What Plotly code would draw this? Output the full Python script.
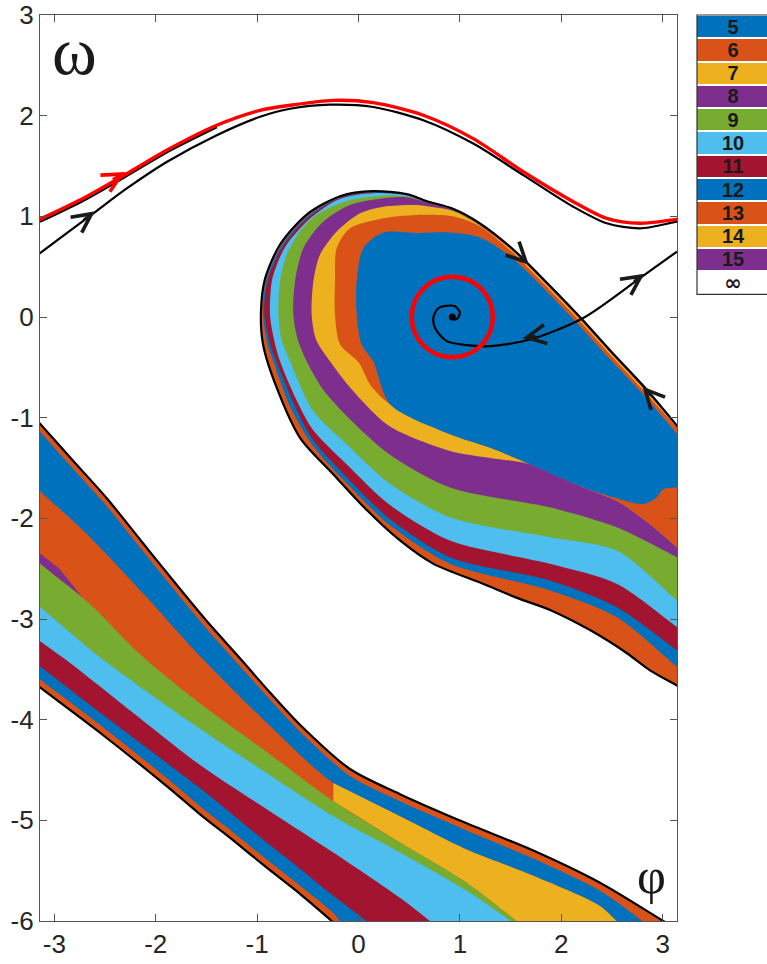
import math
import plotly.graph_objects as go

PI = math.pi

# ---------------- colours (MATLAB default order) ----------------
BLUE, ORANGE, YELLOW, PURPLE = "#0072BD", "#D95319", "#EDB120", "#7E2F8E"
GREEN, LBLUE, DRED = "#77AC30", "#4DBEEE", "#A2142F"

LEGEND_LABELS = ["5", "6", "7", "8", "9", "10", "11", "12", "13", "14", "15", "∞"]
LEGEND_COLORS = [BLUE, ORANGE, YELLOW, PURPLE, GREEN, LBLUE, DRED,
                 BLUE, ORANGE, YELLOW, PURPLE, "#FFFFFF"]

X_TICKS = [-3, -2, -1, 0, 1, 2, 3]
Y_TICKS = [-6, -5, -4, -3, -2, -1, 0, 1, 2, 3]

# ---------------- lower-left band ----------------
LB_UPPER_X = [-PI, -2.813, -2.483, -2.155, -1.826, -1.497, -1.169, -0.873, -0.577, -0.084, 0.409, 1.067, 1.724, 2.382, 3.006]
LB_UPPER_Y = [-1.06, -1.43, -1.80, -2.21, -2.62, -3.02, -3.39, -3.73, -4.05, -4.49, -4.74, -5.03, -5.30, -5.62, -6.0]
LB_LOWER_X = [-PI, -2.55, -1.892, -1.563, -1.235, -0.905, -0.577, -0.264]
LB_LOWER_Y = [-3.68, -4.13, -4.66, -4.94, -5.20, -5.47, -5.73, -6.0]

B1_X = [-PI, -2.813, -2.483, -2.155, -1.826, -1.497, -1.169, -0.873, -0.577, -0.084, 0.409, 1.067, 1.724, 2.382, 2.80]
B1_Y = [-1.14, -1.51, -1.88, -2.29, -2.70, -3.10, -3.47, -3.80, -4.12, -4.56, -4.81, -5.10, -5.38, -5.70, -6.0]
B2_X = [-PI, -2.68, -2.06, -1.6, -0.906, -0.248, 0.409, 1.067, 1.724, 2.382, 2.546]
B2_Y = [-1.73, -2.155, -2.815, -3.33, -4.03, -4.63, -4.96, -5.29, -5.55, -5.85, -6.0]
B3_X = [-PI, -2.65, -2.155, -1.563, -0.906, -0.248, 0.409, 1.067, 1.56]
B3_Y = [-2.45, -2.85, -3.35, -3.84, -4.32, -4.81, -5.22, -5.62, -6.0]
B4_X = [-PI, -2.55, -2.05, -1.563, -0.906, -0.248, 0.409, 1.067, 1.50]
B4_Y = [-2.88, -3.38, -3.75, -4.09, -4.53, -4.96, -5.32, -5.70, -6.0]
B5_X = [-PI, -2.88, -2.2, -1.563, -0.906, -0.248, 0.409, 0.705]
B5_Y = [-3.22, -3.41, -3.95, -4.45, -4.89, -5.32, -5.77, -6.0]
B6_X = [-PI, -2.55, -1.892, -1.563, -1.235, -0.906, -0.577, -0.248, 0.081]
B6_Y = [-3.47, -3.93, -4.43, -4.68, -4.95, -5.22, -5.48, -5.75, -6.0]
B7_X = [-PI, -2.55, -1.892, -1.563, -1.235, -0.905, -0.577, -0.248, -0.182]
B7_Y = [-3.60, -4.05, -4.58, -4.86, -5.12, -5.39, -5.65, -5.92, -6.0]
PURPLE_X = [-PI, -2.95, -2.72, -3.0, -PI]
PURPLE_Y = [-2.35, -2.50, -2.79, -2.565, -2.45]
YELLOW_STEP = -0.25

# ---------------- teardrop basin ----------------
C0_X = [PI, 2.842, 2.499, 2.184, 1.790, 1.527, 1.198, 0.932, 0.676, 0.475, 0.143, -0.182, -0.508, -0.774, -0.922, -0.962, -0.942, -0.804, -0.577, -0.251, 0.084, 0.409, 0.735, 1.228, 1.563, 1.889, 2.283, 2.648, 2.875, PI]
C0_Y = [-1.08, -0.72, -0.35, 0.0, 0.41, 0.67, 0.93, 1.075, 1.15, 1.22, 1.25, 1.20, 1.02, 0.72, 0.38, 0.06, -0.27, -0.71, -1.20, -1.56, -1.92, -2.22, -2.45, -2.65, -2.79, -2.91, -3.11, -3.34, -3.51, -3.66]
C1_X = [PI, 2.842, 2.499, 2.184, 1.790, 1.527, 1.198, 0.932, 0.676, 0.475, 0.143, -0.182, -0.50, -0.76, -0.905, -0.945, -0.90, -0.84, -0.67, -0.45, -0.10, 0.30, 0.902, 1.888, 2.546, PI]
C1_Y = [-1.08, -0.72, -0.35, 0.0, 0.41, 0.67, 0.93, 1.075, 1.15, 1.215, 1.24, 1.19, 1.005, 0.71, 0.38, 0.06, -0.26, -0.44, -0.90, -1.28, -1.67, -2.06, -2.452, -2.716, -2.98, -3.475]
C2_X = [PI, 2.842, 2.499, 2.184, 1.790, 1.527, 1.198, 0.932, 0.676, 0.475, 0.143, -0.182, -0.49, -0.745, -0.89, -0.93, -0.875, -0.81, -0.63, -0.45, -0.10, 0.30, 0.902, 1.888, 2.546, PI]
C2_Y = [-1.08, -0.72, -0.35, 0.0, 0.41, 0.67, 0.93, 1.075, 1.15, 1.21, 1.235, 1.185, 0.995, 0.705, 0.38, 0.05, -0.25, -0.44, -0.88, -1.22, -1.61, -2.0, -2.386, -2.617, -2.881, -3.31]
C3_X = [PI, 2.842, 2.499, 2.184, 1.790, 1.527, 1.198, 0.932, 0.676, 0.475, 0.143, -0.182, -0.47, -0.72, -0.85, -0.873, -0.83, -0.774, -0.60, -0.45, -0.10, 0.30, 0.902, 1.888, 2.546, PI]
C3_Y = [-1.08, -0.72, -0.35, 0.0, 0.41, 0.67, 0.93, 1.075, 1.15, 1.21, 1.23, 1.175, 0.985, 0.70, 0.38, 0.024, -0.24, -0.44, -0.85, -1.12, -1.48, -1.86, -2.221, -2.452, -2.65, -3.079]
C4_X = [PI, 2.842, 2.499, 2.184, 1.790, 1.527, 1.198, 0.932, 0.676, 0.475, 0.245, -0.084, -0.413, -0.577, -0.708, -0.774, -0.79, -0.76, -0.675, -0.45, -0.10, 0.30, 0.902, 1.888, 2.546, PI]
C4_Y = [-1.08, -0.72, -0.35, 0.0, 0.41, 0.67, 0.925, 1.07, 1.145, 1.20, 1.205, 1.162, 1.014, 0.849, 0.618, 0.354, 0.024, -0.22, -0.44, -0.93, -1.28, -1.65, -1.99, -2.188, -2.32, -2.815]
C5_X = [PI, 2.842, 2.499, 2.184, 1.790, 1.527, 1.198, 0.932, 0.676, 0.475, 0.245, -0.084, -0.347, -0.544, -0.626, -0.643, -0.60, -0.511, -0.35, -0.10, 0.30, 0.902, 1.888, 2.546, PI]
C5_Y = [-1.08, -0.72, -0.35, 0.0, 0.41, 0.67, 0.92, 1.065, 1.14, 1.19, 1.179, 1.113, 0.948, 0.684, 0.354, 0.024, -0.22, -0.44, -0.72, -1.0, -1.36, -1.693, -1.891, -2.089, -2.386]
C6_X = [PI, 2.83, 2.49, 2.175, 1.78, 1.52, 1.19, 0.93, 0.676, 0.574, 0.245, 0.015, -0.215, -0.38, -0.445, -0.462, -0.42, -0.281, -0.10, 0.30, 0.902, 1.30, 1.691, 2.217, 2.546, 2.874, PI]
C6_Y = [-1.09, -0.73, -0.36, -0.01, 0.40, 0.66, 0.915, 1.055, 1.10, 1.113, 1.096, 1.03, 0.849, 0.618, 0.354, 0.024, -0.22, -0.44, -0.68, -1.08, -1.33, -1.40, -1.462, -1.693, -1.825, -2.056, -2.287]
C7_X = [PI, 2.82, 2.48, 2.165, 1.77, 1.51, 1.198, 0.93, 0.574, 0.245, -0.084, -0.215, -0.232, -0.232, -0.182, 0.0, 0.12, 0.31, 0.902, 1.30, 1.691, 2.217, 2.546, 2.874, PI]
C7_Y = [-1.10, -0.74, -0.37, -0.02, 0.39, 0.65, 0.90, 1.0, 1.014, 0.981, 0.882, 0.684, 0.354, 0.024, -0.273, -0.45, -0.68, -0.867, -1.165, -1.30, -1.462, -1.693, -1.825, -2.056, -2.287]
C8_X = [PI, 2.80, 2.457, 2.142, 1.748, 1.48, 1.198, 0.90, 0.574, 0.245, 0.048, -0.018, -0.018, 0.03, 0.146, 0.31, 0.902, 1.30, 1.691, 2.217, 2.546, 2.809, 2.940, 3.006, PI]
C8_Y = [-1.16, -0.76, -0.395, -0.045, 0.365, 0.615, 0.79, 0.84, 0.835, 0.839, 0.684, 0.354, 0.024, -0.273, -0.44, -0.867, -1.165, -1.30, -1.462, -1.693, -1.80, -1.858, -1.792, -1.710, -1.693]

# ---------------- orbits / trajectories ----------------
RED_X = [-PI, -2.714, -2.253, -1.892, -1.398, -0.971, -0.676, -0.248, 0.146, 0.639, 1.132, 1.625, 2.118, 2.448, 2.776, PI]
RED_Y = [0.97, 1.18, 1.443, 1.657, 1.905, 2.053, 2.103, 2.152, 2.129, 2.004, 1.772, 1.443, 1.146, 0.98, 0.931, 0.97]
BLK_X = [-PI, -2.615, -2.286, -1.892, -1.398, -0.971, -0.676, -0.281, 0.146, 0.639, 1.132, 1.625, 2.118, 2.448, 2.776, PI]
BLK_Y = [0.634, 1.03, 1.277, 1.54, 1.806, 1.989, 2.069, 2.109, 2.086, 1.955, 1.723, 1.41, 1.096, 0.931, 0.881, 0.947]
BLK2_X = [-PI, -2.714, -2.253, -1.892, -1.398]
BLK2_Y = [0.945, 1.155, 1.42, 1.635, 1.885]
TRAJ_X = [PI, 2.776, 2.217, 1.691, 1.297, 1.067, 0.870, 0.760, 0.738, 0.78, 0.86, 0.952, 1.0, 0.975, 0.935, 0.905]
TRAJ_Y = [0.65, 0.386, -0.01, -0.224, -0.29, -0.28, -0.24, -0.12, -0.01, 0.08, 0.11, 0.106, 0.045, -0.015, -0.025, -0.005]
FOCUS = (0.925, 0.0)
CIRCLE_R = 0.40

# arrows: (head_x, head_y, tail_x, tail_y, colour)
ARROWS = [(-2.30, 1.44, -2.44, 1.36, "#FF0000"),
          (-2.60, 1.05, -2.73, 0.955, "#1a1a1a"),
          (1.68, 0.52, 1.58, 0.62, "#1a1a1a"),
          (2.80, -0.69, 2.90, -0.80, "#1a1a1a"),
          (1.62, -0.21, 1.76, -0.185, "#1a1a1a"),
          (2.82, 0.43, 2.70, 0.345, "#1a1a1a")]

fig = go.Figure()


def ext(xs, ys, at_end=True, f=0.6):
    """construction point just outside the plot, continuing a curve past its end"""
    if at_end:
        (x0, y0), (x1, y1) = (xs[-2], ys[-2]), (xs[-1], ys[-1])
    else:
        (x0, y0), (x1, y1) = (xs[1], ys[1]), (xs[0], ys[0])
    return x1 + f * (x1 - x0), y1 + f * (y1 - y0)


def extended(xs, ys):
    a, b = ext(xs, ys, False), ext(xs, ys, True)
    return [a[0]] + list(xs) + [b[0]], [a[1]] + list(ys) + [b[1]]


SPL = dict(shape="spline", smoothing=0.8)


def fill(xs, ys, color):
    fig.add_trace(go.Scatter(x=xs, y=ys, mode="lines", fill="toself", fillcolor=color,
                             line=dict(width=0, color=color, **SPL), hoverinfo="skip", showlegend=False))


def band_below(cx, cy, color):
    ex, ey = extended(cx, cy)
    lx, ly = extended(LB_LOWER_X, LB_LOWER_Y)
    fill(ex + lx[::-1], ey + ly[::-1], color)


def line(xs, ys, color, width, ext_ends=False):
    if ext_ends:
        xs, ys = extended(xs, ys)
    fig.add_trace(go.Scatter(x=xs, y=ys, mode="lines", hoverinfo="skip", showlegend=False,
                             line=dict(color=color, width=width, **SPL)))


# lower band (painter order)
band_below(LB_UPPER_X, LB_UPPER_Y, ORANGE)
band_below(B1_X, B1_Y, BLUE)
band_below(B2_X, B2_Y, ORANGE)
y2x = [x for x in B2_X if x >= YELLOW_STEP]
y2y = [y for x, y in zip(B2_X, B2_Y) if x >= YELLOW_STEP]
y3x = [x for x in B3_X if x >= YELLOW_STEP]
y3y = [y for x, y in zip(B3_X, B3_Y) if x >= YELLOW_STEP]
e2, e3 = ext(y2x, y2y), ext(y3x, y3y)
fill(y2x + [e2[0], e3[0]] + y3x[::-1], y2y + [e2[1], e3[1]] + y3y[::-1], YELLOW)
fig.add_trace(go.Scatter(x=PURPLE_X, y=PURPLE_Y, mode="lines", fill="toself", fillcolor=PURPLE,
                         line=dict(width=0, color=PURPLE), hoverinfo="skip", showlegend=False))
band_below(B3_X, B3_Y, GREEN)
band_below(B4_X, B4_Y, LBLUE)
band_below(B5_X, B5_Y, DRED)
band_below(B6_X, B6_Y, BLUE)
band_below(B7_X, B7_Y, ORANGE)

# teardrop (painter order, outer to inner)
for cx, cy, col in [(C0_X, C0_Y, ORANGE), (C1_X, C1_Y, BLUE), (C2_X, C2_Y, DRED),
                    (C3_X, C3_Y, LBLUE), (C4_X, C4_Y, GREEN), (C5_X, C5_Y, PURPLE),
                    (C6_X, C6_Y, YELLOW), (C7_X, C7_Y, ORANGE), (C8_X, C8_Y, BLUE)]:
    ex, ey = extended(cx, cy)
    fill(ex, ey, col)

# boundary lines
line(LB_UPPER_X, LB_UPPER_Y, "black", 2.2, True)
line(LB_LOWER_X, LB_LOWER_Y, "black", 2.2, True)
line(C0_X, C0_Y, "black", 2.2, True)
line(BLK_X, BLK_Y, "black", 2.2, True)
line(BLK2_X, BLK2_Y, "black", 2.2)
line(RED_X, RED_Y, "#FF0000", 3.4, True)
line(TRAJ_X, TRAJ_Y, "black", 2.2)
fig.add_trace(go.Scatter(x=[FOCUS[0]], y=[FOCUS[1]], mode="markers", hoverinfo="skip", showlegend=False,
                         marker=dict(color="black", size=7)))

# colour key
key_text = [[("<span style='font-family:DejaVu Sans;font-size:21px'>%s</span>" % t) if t == "∞" else t]
            for t in LEGEND_LABELS]
fig.add_trace(go.Heatmap(z=[[i] for i in range(len(LEGEND_LABELS))], x=[0], y=list(range(len(LEGEND_LABELS))),
                         text=key_text, texttemplate="<b>%{text}</b>",
                         textfont=dict(family="Liberation Sans", size=20, color="#1a1a1a"),
                         colorscale=[[i / (len(LEGEND_COLORS) - 1), c] for i, c in enumerate(LEGEND_COLORS)],
                         zmin=0, zmax=len(LEGEND_COLORS) - 1, showscale=False, ygap=2,
                         xaxis="x2", yaxis="y2", hoverinfo="skip"))

W, H = 767, 964
ML, MT, MB = 40, 13, 43
PW, PH = W - ML, H - MT - MB
px = lambda p: (p - ML) / PW          # pixel column -> paper x
py = lambda p: 1 - (p - MT) / PH      # pixel row -> paper y

shapes = [dict(type="circle", xref="x", yref="y",
               x0=FOCUS[0] - CIRCLE_R, x1=FOCUS[0] + CIRCLE_R, y0=FOCUS[1] - CIRCLE_R, y1=FOCUS[1] + CIRCLE_R,
               line=dict(color="#FF0000", width=4.5)),
          dict(type="rect", xref="paper", yref="paper", x0=px(697), x1=1.05, y0=py(293), y1=py(13),
               line=dict(color="#333333", width=1.2))]

annotations = [dict(x=-2.80, y=2.64, xref="x", yref="y", text="ω", showarrow=False,
                    font=dict(family="Liberation Serif", size=68, color="#1a1a1a")),
               dict(x=2.89, y=-5.55, xref="x", yref="y", text="φ", showarrow=False,
                    font=dict(family="Liberation Serif", size=50, color="#1a1a1a"))]
for hx, hy, tx, ty, col in ARROWS:
    annotations.append(dict(x=hx, y=hy, ax=tx, ay=ty, xref="x", yref="y", axref="x", ayref="y",
                            text="", showarrow=True, arrowhead=5, arrowsize=1.7, arrowwidth=2.2,
                            arrowcolor=col, standoff=0))

axis_common = dict(showgrid=False, zeroline=False, ticks="inside", ticklen=7, tickcolor="#555555",
                   showline=True, linecolor="#555555", linewidth=1.2, mirror="ticks",
                   ticklabeloverflow="allow",
                   tickfont=dict(family="Liberation Sans", size=26, color="#262626"))

fig.update_layout(
    width=W, height=H, margin=dict(l=ML, r=0, t=MT, b=MB),
    paper_bgcolor="white", plot_bgcolor="white", showlegend=False,
    xaxis=dict(domain=[0, px(677)], range=[-PI, PI], tickvals=X_TICKS,
               ticktext=[str(v) for v in X_TICKS], **axis_common),
    yaxis=dict(range=[-6, 3], tickvals=Y_TICKS, ticktext=[str(v) for v in Y_TICKS], **axis_common),
    xaxis2=dict(domain=[px(697), 1.0], range=[-0.5, 0.46], visible=False, anchor="y2"),
    yaxis2=dict(domain=[py(293), py(13)], range=[11.5, -0.5], visible=False, anchor="x2"),
    shapes=shapes, annotations=annotations,
)

fig.write_html("out.html")
